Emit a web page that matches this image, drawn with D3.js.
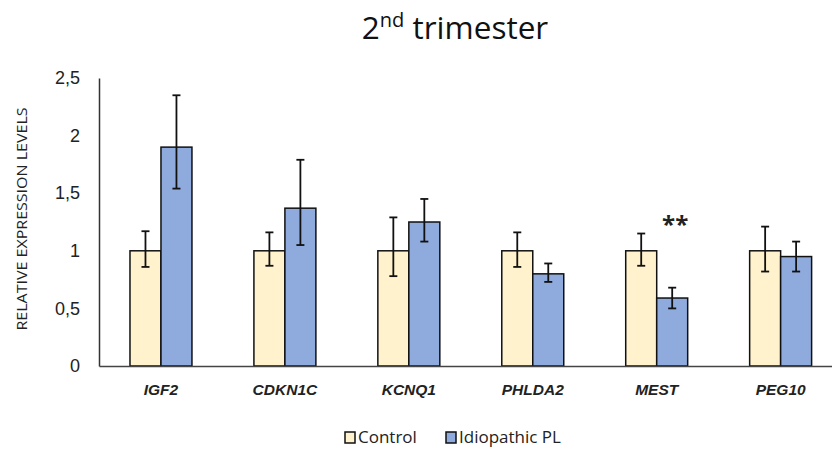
<!DOCTYPE html>
<html><head><meta charset="utf-8">
<script src="https://cdn.jsdelivr.net/npm/d3@7"></script>
<style>body{margin:0;background:#fff}svg{display:block;font-family:"Open Sans",sans-serif}</style>
</head><body><svg id="c" width="832" height="452"></svg>
<script>
const categories = ["IGF2","CDKN1C","KCNQ1","PHLDA2","MEST","PEG10"];
const seriesNames = ["Control","Idiopathic PL"];
const controlValues = [1.0,1.0,1.0,1.0,1.0,1.0];
const controlErrLow = [0.86,0.87,0.78,0.86,0.87,0.82];
const controlErrHigh = [1.17,1.16,1.29,1.16,1.15,1.21];
const plValues = [1.90,1.37,1.25,0.80,0.59,0.95];
const plErrLow = [1.54,1.05,1.08,0.73,0.50,0.82];
const plErrHigh = [2.35,1.79,1.45,0.89,0.68,1.08];
const yTicks = [0,0.5,1,1.5,2,2.5];
const significance = ["","","","","**",""];
const colors = ["#FFF2CC","#8FAADC"];

const svg = d3.select("#c");
const x = d3.scaleBand().domain(categories).range([99,842.6]).paddingInner(0.5).paddingOuter(0.25);
const x1 = d3.scaleBand().domain(seriesNames).range([0,x.bandwidth()]);
const y = d3.scaleLinear().domain([0,2.5]).range([366,78]);
const fmt = d => String(d).replace(".",",");

// axes
const ya = svg.append("g").attr("transform","translate(99,0)")
  .call(d3.axisLeft(y).tickValues(yTicks).tickSize(0).tickPadding(19).tickFormat(fmt));
ya.select(".domain").attr("stroke","#333").attr("stroke-width",1.5);
ya.selectAll("text").style("font-size","18px").attr("fill","#222");

const data = categories.map((c,i)=>({c,vals:[
  {s:seriesNames[0],v:controlValues[i],lo:controlErrLow[i],hi:controlErrHigh[i]},
  {s:seriesNames[1],v:plValues[i],lo:plErrLow[i],hi:plErrHigh[i]}]}));

const g = svg.selectAll("g.grp").data(data).join("g").attr("class","grp")
  .attr("transform",d=>`translate(${x(d.c)},0)`);
g.selectAll("rect").data(d=>d.vals).join("rect")
  .attr("x",d=>x1(d.s)).attr("width",x1.bandwidth())
  .attr("y",d=>y(d.v)).attr("height",d=>y(0)-y(d.v))
  .attr("fill",(d,i)=>colors[i]).attr("stroke","#111").attr("stroke-width",1.5);
const eb = g.selectAll("g.eb").data(d=>d.vals).join("g").attr("class","eb")
  .attr("transform",d=>`translate(${x1(d.s)+x1.bandwidth()/2},0)`).attr("stroke","#111").attr("stroke-width",1.8);
eb.append("line").attr("y1",d=>y(d.lo)).attr("y2",d=>y(d.hi));
eb.append("line").attr("x1",-4).attr("x2",4).attr("y1",d=>y(d.hi)).attr("y2",d=>y(d.hi));
eb.append("line").attr("x1",-4).attr("x2",4).attr("y1",d=>y(d.lo)).attr("y2",d=>y(d.lo));

// significance
svg.selectAll("text.sig").data(categories).join("text").attr("class","sig")
  .attr("x",(c)=>x(c)+x1(seriesNames[1])+x1.bandwidth()/2+3)
  .attr("y",(c,i)=>y(plErrHigh[i])-55)
  .attr("text-anchor","middle").attr("font-size",24).attr("font-weight","bold").attr("fill","#222")
  .text((c,i)=>significance[i]);

// x axis
const xa = svg.append("g").attr("transform","translate(0,366)")
  .call(d3.axisBottom(x).tickSize(0).tickPadding(18));
xa.select(".domain").attr("stroke","#444").attr("stroke-width",1.5);
xa.selectAll("text").style("font-size","15.5px").attr("font-weight","bold").attr("font-style","italic").attr("fill","#222");

// y title
svg.append("text").attr("transform","translate(27,219) rotate(-90)").attr("text-anchor","middle")
  .attr("font-size",14.5).attr("textLength",223).attr("lengthAdjust","spacingAndGlyphs")
  .attr("fill","#222").text("RELATIVE EXPRESSION LEVELS");

// title
const t = svg.append("text").attr("x",455).attr("y",39).attr("text-anchor","middle").attr("font-size",31.5).attr("fill","#111");
t.append("tspan").text("2");
t.append("tspan").attr("dy",-12).attr("font-size",20).text("nd");
t.append("tspan").attr("dy",12).text(" trimester");

// legend
const leg = svg.append("g").attr("transform","translate(345,438)");
const items = [{s:seriesNames[0],x:0},{s:seriesNames[1],x:101}];
items.forEach((it,i)=>{
  leg.append("rect").attr("x",it.x).attr("y",-6).attr("width",10).attr("height",11)
    .attr("fill",colors[i]).attr("stroke","#111").attr("stroke-width",1.5);
  leg.append("text").attr("x",it.x+13).attr("y",5).attr("font-size",17).attr("fill","#222").text(it.s);
});
</script></body></html>
